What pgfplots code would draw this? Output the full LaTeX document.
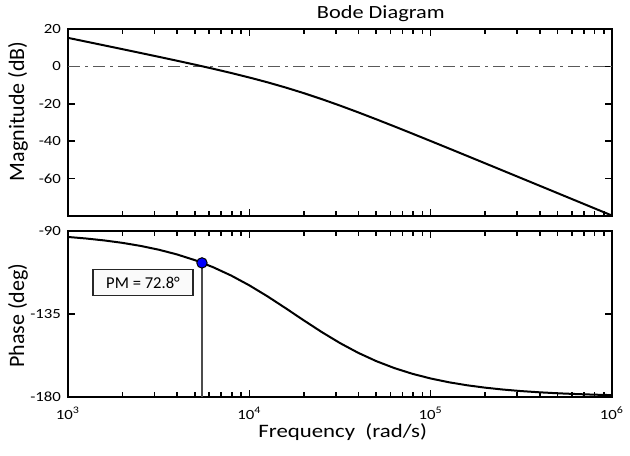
\documentclass[border=0pt]{standalone}
\usepackage{fontspec}
\setmainfont{Carlito}
\newfontfamily\wide[FakeStretch=1.2]{Carlito}
\usepackage{pgfplots}
\usepackage{pgfplotstable}
\pgfplotsset{compat=1.18}

% open loop response
\pgfplotstableread{
w       mag      phase
1000    15.255   -93.23
1258.9  13.247   -94.07
1584.9  11.234   -95.12
1995.3  9.214    -96.43
2511.9  7.182    -98.08
3162.3  5.132    -100.13
3981.1  3.054    -102.67
5011.9  0.934    -105.81
6309.6  -1.251   -109.62
7943.3  -3.528   -114.16
10000   -5.935   -119.47
12589   -8.509   -125.42
15849   -11.288  -131.84
19953   -14.292  -138.42
25119   -17.522  -144.83
31623   -20.955  -150.76
39811   -24.554  -156.03
50119   -28.281  -160.55
63096   -32.100  -164.33
79433   -35.981  -167.44
100000  -39.905  -169.96
125893  -43.856  -172.00
158489  -47.825  -173.63
199526  -51.805  -174.93
251189  -55.792  -175.97
316228  -59.784  -176.80
398107  -63.779  -177.45
501187  -67.776  -177.98
630957  -71.774  -178.39
794328  -75.773  -178.72
1000000 -79.772  -178.99
}\bode

\begin{document}
\begin{tikzpicture}

\begin{axis}[name=mag,
    scale only axis, width=272pt, height=93.5pt,
    xmode=log, xmin=1e3, xmax=1e6,
    xtick={1e3,1e4,1e5,1e6},
    minor xtick={2e3,3e3,4e3,5e3,6e3,7e3,8e3,9e3,
                 2e4,3e4,4e4,5e4,6e4,7e4,8e4,9e4,
                 2e5,3e5,4e5,5e5,6e5,7e5,8e5,9e5},
    xticklabels={},
    ymin=-80, ymax=20,
    ytick={-60,-40,-20,0,20},
    axis line style={line width=1.3pt},
    every tick/.style={black, line width=0.8pt},
    major tick length=3.5pt, minor tick length=2.5pt,
    tick label style={font=\wide\fontsize{7}{8}\selectfont},
    /pgf/number format/assume math mode=true,
    ylabel={Magnitude (dB)},
    ylabel style={at={(axis description cs:-0.092,0.56)}, anchor=center,
                  font=\fontsize{11}{13}\selectfont},
    title={Bode Diagram},
    title style={at={(0.575,1)}, anchor=south, yshift=-6pt,
                 font=\wide\fontsize{9.3}{11}\selectfont},
]
\addplot[black!65, line width=0.85pt, dash pattern=on 6pt off 2.5pt on 1.5pt off 2.5pt]
    coordinates {(1e3,0) (1e6,0)};
\addplot[black, line width=1pt] table[x=w, y=mag] {\bode};
\end{axis}

\begin{axis}[name=ph,
    at={(mag.south west)}, anchor=north west, yshift=-7.5pt,
    scale only axis, width=272pt, height=83pt,
    xmode=log, xmin=1e3, xmax=1e6,
    xtick={1e3,1e4,1e5,1e6},
    minor xtick={2e3,3e3,4e3,5e3,6e3,7e3,8e3,9e3,
                 2e4,3e4,4e4,5e4,6e4,7e4,8e4,9e4,
                 2e5,3e5,4e5,5e5,6e5,7e5,8e5,9e5},
    xticklabels={10\textsuperscript{3},10\textsuperscript{4},10\textsuperscript{5},10\textsuperscript{6}},
    xticklabel style={yshift=-1.5pt},
    ymin=-180, ymax=-90,
    ytick={-180,-135,-90},
    axis line style={line width=1.3pt},
    every tick/.style={black, line width=0.8pt},
    major tick length=3.5pt, minor tick length=2.5pt,
    tick label style={font=\wide\fontsize{7}{8}\selectfont},
    /pgf/number format/assume math mode=true,
    ylabel={Phase (deg)},
    ylabel style={at={(axis description cs:-0.092,0.49)}, anchor=center,
                  font=\fontsize{11}{13}\selectfont},
    xlabel={Frequency\ \ (rad/s)},
    xlabel style={at={(axis description cs:0.505,0)}, anchor=center, yshift=-17.5pt,
                  font=\wide\fontsize{9.5}{11}\selectfont},
]
\addplot[black!70, line width=0.6pt] coordinates {(5480,-107.3) (5480,-180)};
\addplot[black, line width=1pt] table[x=w, y=phase] {\bode};
\addplot[only marks, mark=*, mark size=2.6pt,
    mark options={fill=blue, draw=black, line width=0.5pt}]
    coordinates {(5480,-107.3)};
\node[draw=black!85, line width=0.9pt, fill=gray!4, minimum width=50pt, minimum height=13pt,
      inner sep=1pt, font=\fontsize{8.3}{10}\selectfont]
    at (axis cs:2593,-117.9) {PM = 72.8°};
\end{axis}

\path (mag.north west) ++(-34pt,14.5pt) coordinate (tl);
\path (ph.south east) ++(9pt,-29pt) coordinate (br);
\pgfresetboundingbox
\path (tl) rectangle (br);
\end{tikzpicture}
\end{document}
